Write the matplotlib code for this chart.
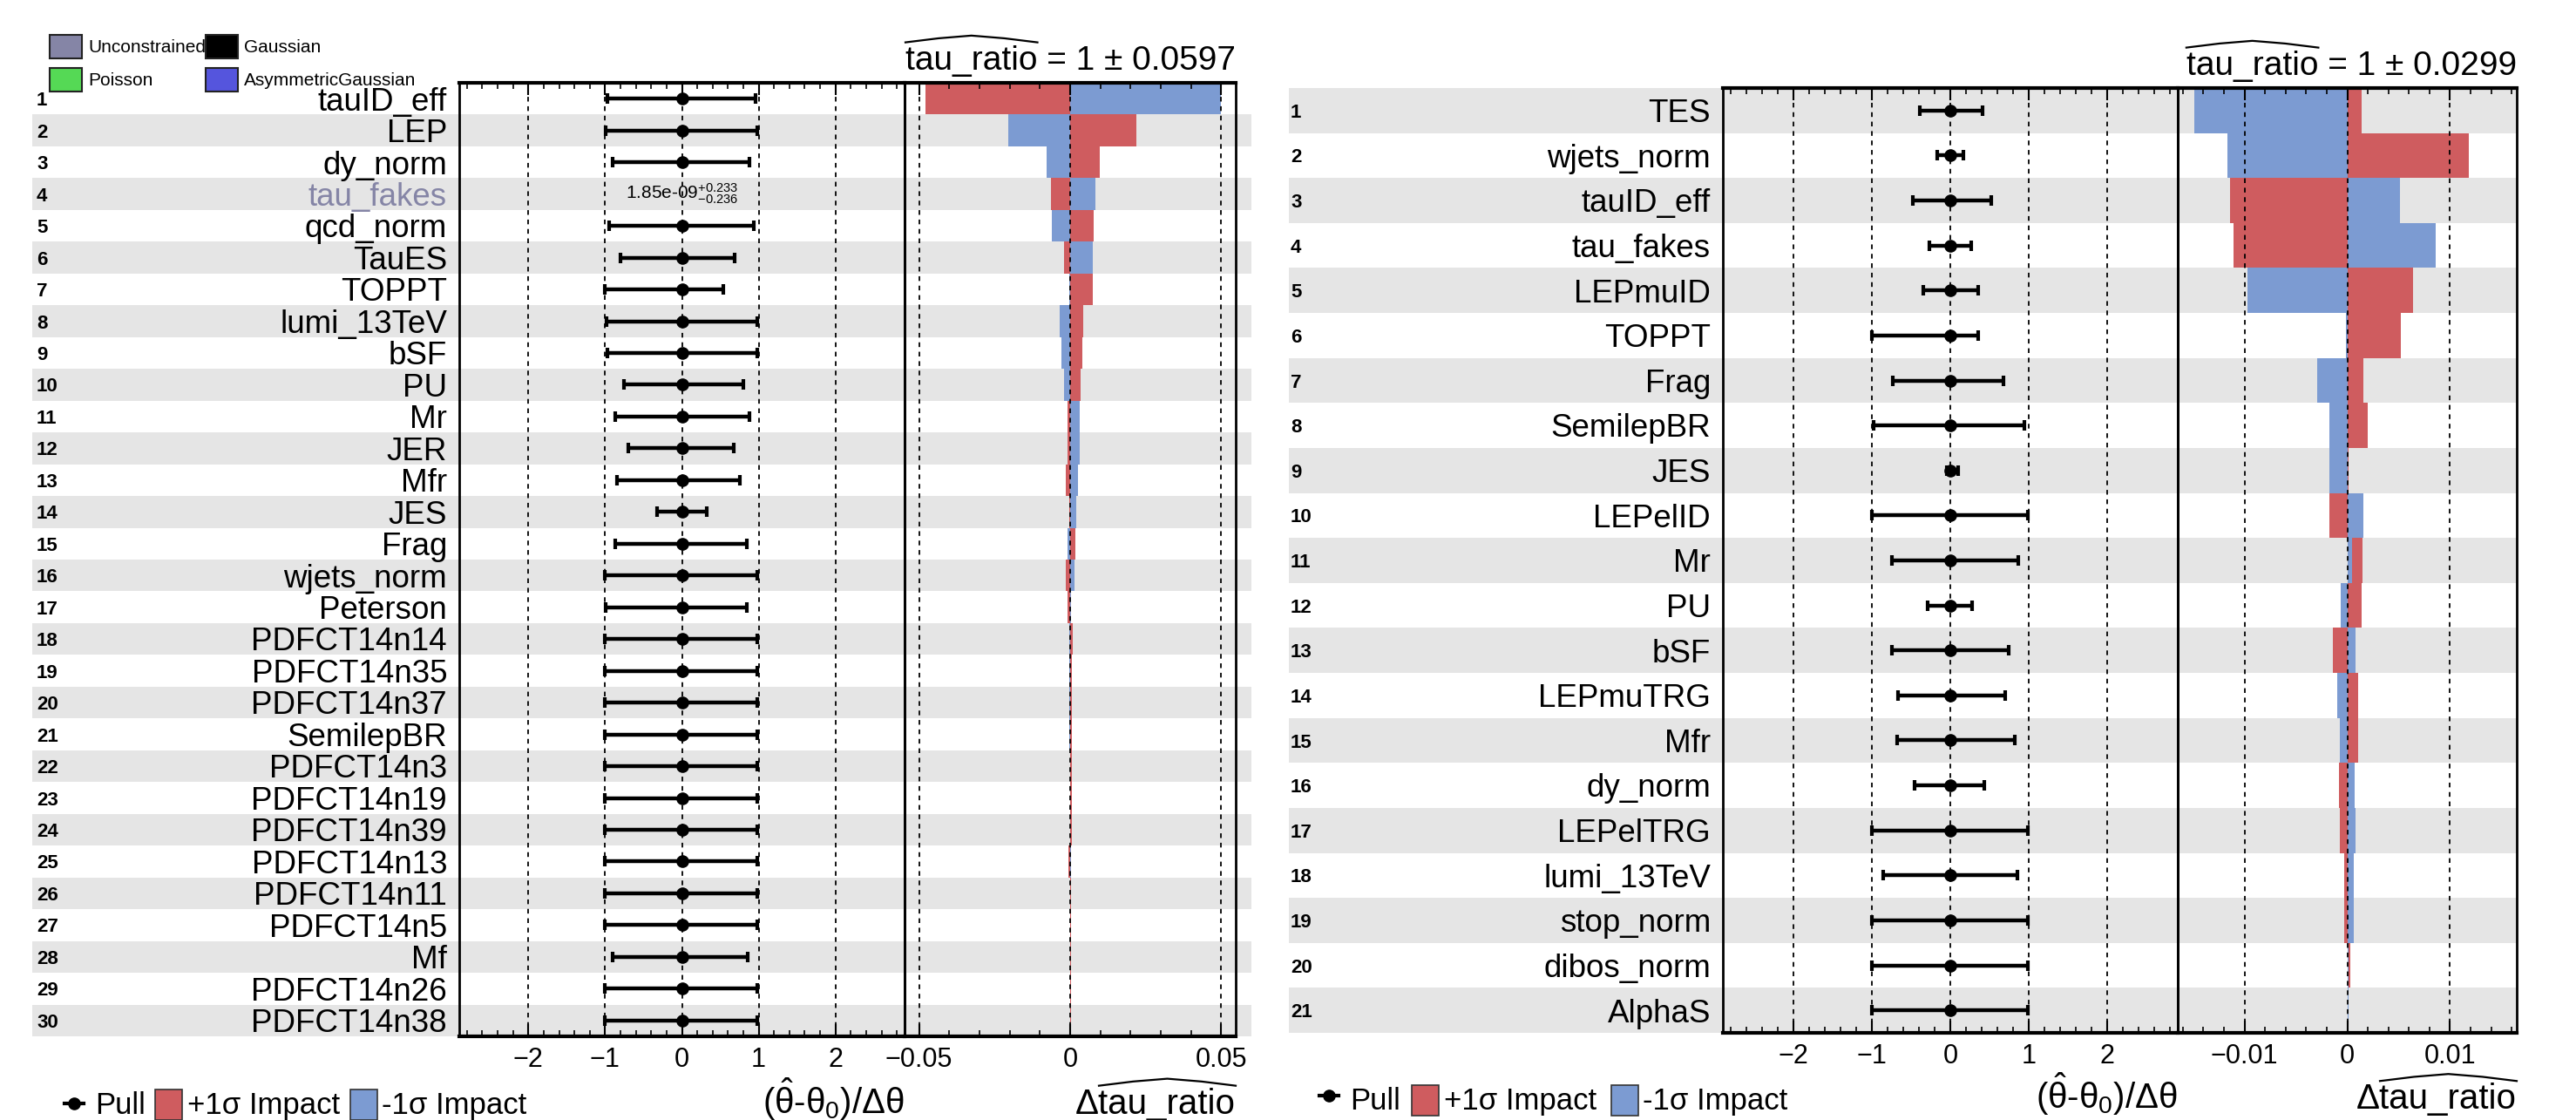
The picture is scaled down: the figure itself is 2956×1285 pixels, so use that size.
import numpy as np
import matplotlib
matplotlib.use("Agg")
import matplotlib.pyplot as plt
import matplotlib.transforms as mtransforms
from matplotlib.patches import Rectangle
from matplotlib.lines import Line2D
from matplotlib.ticker import MultipleLocator, FuncFormatter

plt.rcParams['font.family'] = ['Liberation Sans', 'DejaVu Sans']
plt.rcParams['mathtext.fontset'] = 'custom'
plt.rcParams['mathtext.rm'] = 'Liberation Sans'
plt.rcParams['mathtext.it'] = 'Liberation Sans:italic'
plt.rcParams['mathtext.bf'] = 'Liberation Sans:bold'
plt.rcParams['mathtext.default'] = 'regular'

# ---- left fit (30 nuisances) ----
left_names = ["tauID_eff", "LEP", "dy_norm", "tau_fakes", "qcd_norm", "TauES", "TOPPT",
              "lumi_13TeV", "bSF", "PU", "Mr", "JER", "Mfr", "JES", "Frag", "wjets_norm",
              "Peterson", "PDFCT14n14", "PDFCT14n35", "PDFCT14n37", "SemilepBR", "PDFCT14n3",
              "PDFCT14n19", "PDFCT14n39", "PDFCT14n13", "PDFCT14n11", "PDFCT14n5", "Mf",
              "PDFCT14n26", "PDFCT14n38"]
left_pull = [0.0] * 30
left_pull_lo = [0.97, 0.99, 0.90, np.nan, 0.95, 0.80, 1.00, 0.98, 0.97, 0.76,
                0.87, 0.70, 0.84, 0.32, 0.87, 1.00, 0.99, 1.00, 1.00, 1.00,
                1.00, 1.00, 1.00, 1.00, 1.00, 1.00, 1.00, 0.90, 1.00, 1.00]
left_pull_hi = [0.96, 0.98, 0.88, np.nan, 0.94, 0.69, 0.54, 0.98, 0.98, 0.80,
                0.88, 0.67, 0.76, 0.32, 0.85, 0.98, 0.84, 0.98, 0.98, 0.98,
                0.98, 0.98, 0.98, 0.98, 0.98, 0.98, 0.98, 0.86, 0.98, 0.98]
left_imp_hi = [-0.0479, 0.0218, 0.0098, -0.0064, 0.0077, -0.0020, 0.0074, 0.0043, 0.0040, 0.0035,
               -0.0010, -0.0008, -0.0013, -0.0003, 0.0016, -0.0013, -0.0008, 0.0008, 0.0006, 0.0006,
               0.0006, 0.0006, 0.0005, 0.0005, -0.0005, 0.0004, 0.0004, 0.0004, 0.0004, 0.0004]
left_imp_lo = [0.0500, -0.0205, -0.0077, 0.0085, -0.0061, 0.0074, -0.0003, -0.0035, -0.0029, -0.0019,
               0.0032, 0.0032, 0.0027, 0.0021, -0.0008, 0.0013, 0.0002, -0.0002, -0.0002, -0.0002,
               -0.0002, -0.0001, -0.0001, -0.0001, 0.0002, -0.0001, -0.0001, -0.0001, -0.0001, -0.0001]
left_unconstrained = ["tau_fakes"]
left_note = r"1.85e-09$^{+0.233}_{-0.236}$"
left_title = "tau_ratio = 1 ± 0.0597"

# ---- right fit (21 nuisances) ----
right_names = ["TES", "wjets_norm", "tauID_eff", "tau_fakes", "LEPmuID", "TOPPT", "Frag",
               "SemilepBR", "JES", "LEPelID", "Mr", "PU", "bSF", "LEPmuTRG", "Mfr", "dy_norm",
               "LEPelTRG", "lumi_13TeV", "stop_norm", "dibos_norm", "AlphaS"]
right_pull = [0.0] * 21
right_pull_lo = [0.39, 0.17, 0.48, 0.27, 0.35, 1.00, 0.73, 0.98, 0.05, 1.00, 0.75,
                 0.29, 0.74, 0.67, 0.68, 0.46, 1.00, 0.86, 1.00, 1.00, 1.00]
right_pull_hi = [0.41, 0.17, 0.52, 0.27, 0.35, 0.36, 0.68, 0.94, 0.10, 0.99, 0.87,
                 0.28, 0.74, 0.70, 0.82, 0.43, 0.99, 0.85, 0.99, 0.99, 0.99]
right_imp_hi = [0.0014, 0.0118, -0.0114, -0.0111, 0.0064, 0.0052, 0.0016, 0.0020, 0.0001, -0.0017, 0.0015,
                0.0014, -0.0014, 0.0011, 0.0011, -0.0008, -0.0007, -0.0003, -0.0003, 0.0003, 0.0001]
right_imp_lo = [-0.0149, -0.0117, 0.0051, 0.0086, -0.0097, -0.0001, -0.0029, -0.0017, -0.0017, 0.0016, 0.0005,
                -0.0006, 0.0008, -0.0010, -0.0007, 0.0007, 0.0008, 0.0006, 0.0006, 0.0001, 0.0001]
right_title = "tau_ratio = 1 ± 0.0299"

POI = "tau_ratio"
RED = '#cf5c5f'
BLUE = '#7c9bd2'
GRAY = '#e5e5e5'
UNCON = '#8585a6'

W, H = 2956, 1285
fig = plt.figure(figsize=(W / 100, H / 100), dpi=100)
hatted = []  # (text object, prefix before the hatted word)


def px(x0, y0, x1, y1):
    return [x0 / W, 1 - y1 / H, (x1 - x0) / W, (y1 - y0) / H]


def fmt(v, pos):
    return ('%g' % (round(v, 6) + 0.0)).replace('-', '\u2212')


def draw_panel(g, names, pull, pull_lo, pull_hi, imp_hi, imp_lo, title, uncons=(), note=None):
    n = len(names)
    rows = np.arange(1, n + 1)
    bg = fig.add_axes(px(g['band'][0], g['top'], g['band'][1], g['bottom']), zorder=0)
    bg.set_xlim(g['band'][0], g['band'][1])
    bg.set_ylim(n + 0.5, 0.5)
    bg.axis('off')
    for r in rows:
        if r % 2 == g['gray_mod']:
            bg.axhspan(r - 0.5, r + 0.5, color=GRAY, lw=0)
    lab_tr = mtransforms.offset_copy(bg.transData, fig=fig, y=-9.6, units='points')
    num_tr = mtransforms.offset_copy(bg.transData, fig=fig, y=-5.8, units='points')
    for r, name in zip(rows, names):
        c = UNCON if name in uncons else 'black'
        bg.text(g['lab_x'], r, name, ha='right', va='baseline', fontsize=26.5, color=c, transform=lab_tr)
        bg.text(g['num_x'], r, str(r), ha='left', va='baseline', fontsize=16,
                fontweight='bold', transform=num_tr)

    axp = fig.add_axes(px(g['pull'][0], g['top'], g['pull'][1], g['bottom']), zorder=1)
    axi = fig.add_axes(px(g['pull'][1], g['top'], g['imp_right'], g['bottom']), zorder=1)

    p = np.array(pull)
    lo = np.array(pull_lo)
    hi = np.array(pull_hi)
    ok = ~np.isnan(lo)
    axp.errorbar(p[ok], rows[ok], xerr=[lo[ok], hi[ok]], fmt='o', color='black', ms=9.5,
                 elinewidth=3.2, capsize=4, capthick=3, zorder=3)
    if note is not None:
        idx = int(np.where(~ok)[0][0])
        axp.text(p[idx], rows[idx], note, ha='center', va='center', fontsize=15, zorder=4)
    axp.set_xlim(-2.9, 2.9)

    axi.barh(rows, imp_hi, height=1.0, color=RED, lw=0)
    axi.barh(rows, imp_lo, height=1.0, color=BLUE, lw=0)
    axi.set_xlim(-g['imp_lim'], g['imp_lim'])

    for ax, major, minor in ((axp, 1, 0.2), (axi, g['imp_major'], g['imp_minor'])):
        ax.patch.set_alpha(0)
        ax.set_ylim(n + 0.5, 0.5)
        ax.set_yticks([])
        ax.xaxis.set_major_locator(MultipleLocator(major))
        ax.xaxis.set_minor_locator(MultipleLocator(minor))
        ax.xaxis.set_major_formatter(FuncFormatter(fmt))
        ax.tick_params(axis='x', which='both', direction='in', top=True, bottom=True,
                       labelsize=22, pad=9)
        ax.tick_params(axis='x', which='major', length=10, width=1.5)
        ax.tick_params(axis='x', which='minor', length=5, width=1.2)
        ax.set_axisbelow(False)
        ax.grid(axis='x', which='major', color='black', linestyle=(0, (3, 3)), linewidth=1.3)
        for s in ax.spines.values():
            s.set_linewidth(2)
        ax.spines['top'].set_linewidth(3)
        ax.spines['bottom'].set_linewidth(3)

    t = axi.text(1.0, 1.0, title, ha='right', va='baseline', fontsize=28,
                 transform=mtransforms.offset_copy(axi.transAxes, fig=fig, y=11, units='points'))
    hatted.append((t, ""))
    tb = mtransforms.offset_copy(axp.transAxes, fig=fig, y=-g['xt_off'], units='points')
    axp.text(1.0, 0.0, r"($\hat{\theta}$-$\theta_{0}$)/$\Delta\theta$", ha='right', va='baseline',
             fontsize=29, transform=tb)
    tb2 = mtransforms.offset_copy(axi.transAxes, fig=fig, y=-g['xt_off'], units='points')
    t2 = axi.text(1.0, 0.0, "Δ" + POI, ha='right', va='baseline', fontsize=29, transform=tb2)
    hatted.append((t2, "Δ"))


left_geom = dict(band=(37, 1436), lab_x=513, num_x=42, pull=(527, 1038), imp_right=1418,
                 top=95, bottom=1189, gray_mod=0, imp_lim=0.0548, imp_major=0.05,
                 imp_minor=0.01, xt_off=64)
right_geom = dict(band=(1479, 2888), lab_x=1963, num_x=1481, pull=(1977, 2499), imp_right=2888,
                  top=101, bottom=1185, gray_mod=1, imp_lim=0.0165, imp_major=0.01,
                  imp_minor=0.002, xt_off=63)

draw_panel(left_geom, left_names, left_pull, left_pull_lo, left_pull_hi, left_imp_hi, left_imp_lo,
           left_title, uncons=left_unconstrained, note=left_note)
draw_panel(right_geom, right_names, right_pull, right_pull_lo, right_pull_hi, right_imp_hi,
           right_imp_lo, right_title)

# overlay for legends, in figure pixels
ov = fig.add_axes([0, 0, 1, 1], zorder=5)
ov.set_xlim(0, W)
ov.set_ylim(H, 0)
ov.axis('off')

# constraint-type legend (top left)
for (x0, y0, col, txt) in [(57, 40, UNCON, "Unconstrained"), (236, 40, 'black', "Gaussian"),
                           (57, 78, '#55d955', "Poisson"), (236, 78, '#5555dd', "AsymmetricGaussian")]:
    ov.add_patch(Rectangle((x0, y0), 37, 27, facecolor=col, edgecolor='#222222', lw=1.5))
    ov.text(x0 + 44, y0 + 14, txt, ha='left', va='center', fontsize=15)

# pull / impact legends (bottom)
for (xm, ym, xr, xb, yb, ybase) in [(85, 1266, 178, 402, 1250, 1278),
                                    (1525, 1257, 1620, 1849, 1245, 1273)]:
    ov.add_line(Line2D([xm - 11, xm + 11], [ym, ym], color='black', lw=3))
    ov.plot([xm], [ym], marker='o', color='black', ms=9.5)
    ov.text(xm + 24, ybase, "Pull", ha='left', va='baseline', fontsize=25)
    ov.add_patch(Rectangle((xr, yb), 31, 35, facecolor=RED, edgecolor='#333333', lw=1.2))
    ov.text(xr + 37, ybase, "+1σ Impact", ha='left', va='baseline', fontsize=25)
    ov.add_patch(Rectangle((xb, yb), 31, 35, facecolor=BLUE, edgecolor='#333333', lw=1.2))
    ov.text(xb + 36, ybase, "-1σ Impact", ha='left', va='baseline', fontsize=25)

# wide hats over the POI name (ROOT #hat)
fig.canvas.draw()
renderer = fig.canvas.get_renderer()
ident = mtransforms.IdentityTransform()
for t, prefix in hatted:
    bb = t.get_window_extent(renderer)
    fp = t.get_fontproperties()
    em = fp.get_size_in_points() * fig.dpi / 72.0
    _, _, desc = renderer.get_text_width_height_descent(t.get_text(), fp, ismath=False)
    base = bb.y0 + desc
    x0 = bb.x0
    if prefix:
        x0 += renderer.get_text_width_height_descent(prefix, fp, ismath=False)[0]
    wword = renderer.get_text_width_height_descent(POI, fp, ismath=False)[0]
    xs = np.array([x0, x0 + 0.25 * wword, x0 + 0.5 * wword, x0 + 0.75 * wword, x0 + wword])
    ys = base + em * np.array([0.80, 0.92, 1.0, 0.92, 0.80])
    ov.add_line(Line2D(xs, ys, color='black', lw=1.6, transform=ident))

fig.savefig("out.png", dpi=100)
